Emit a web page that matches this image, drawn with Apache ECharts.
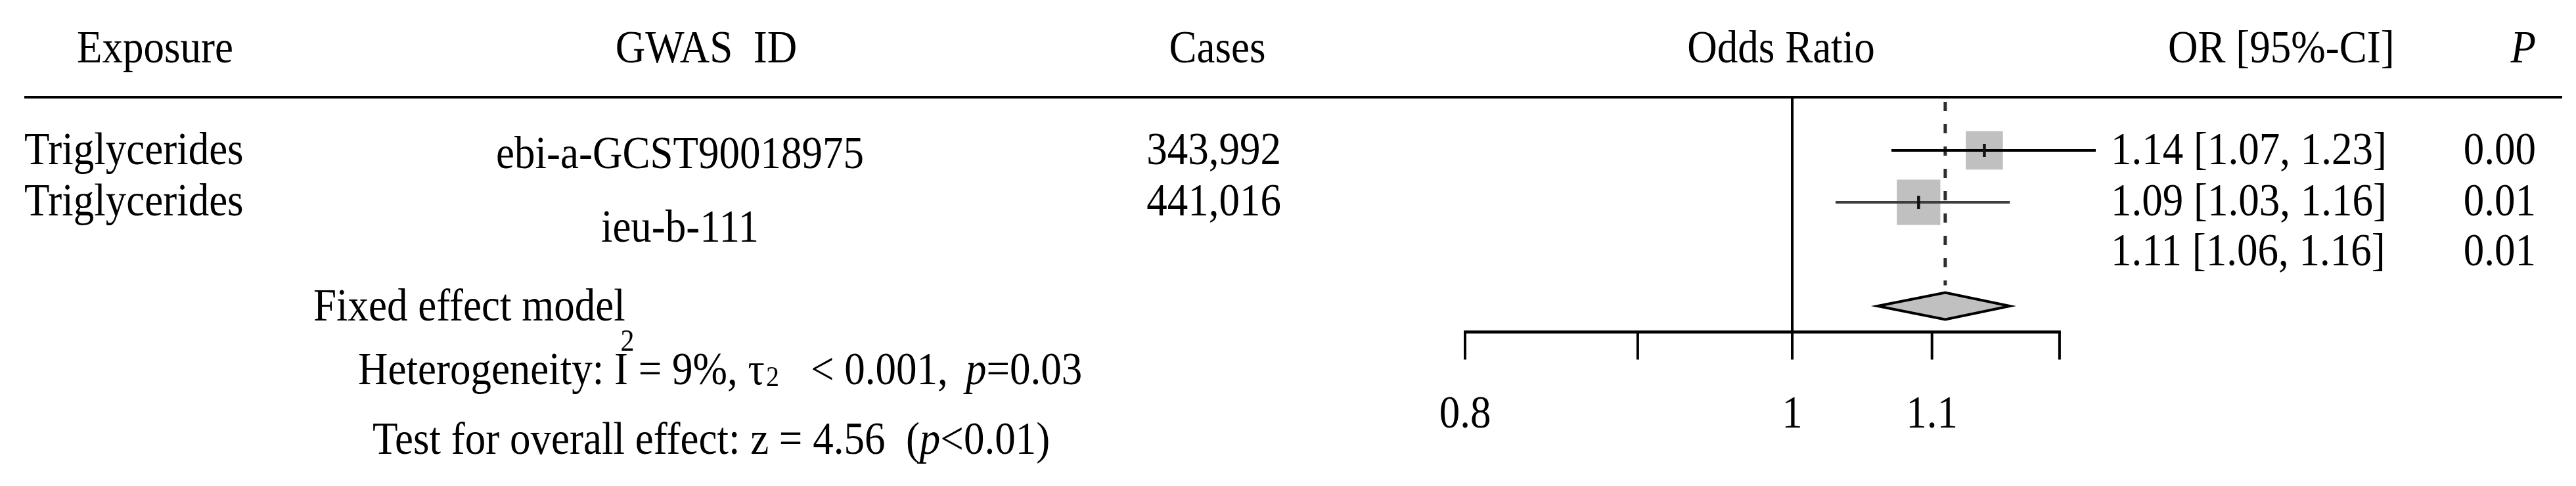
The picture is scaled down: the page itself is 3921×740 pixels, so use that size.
<!DOCTYPE html>
<html>
<head>
<meta charset="utf-8">
<script src="https://cdn.jsdelivr.net/npm/echarts@6/dist/echarts.min.js"></script>
<style>
html,body{margin:0;padding:0;background:#ffffff;}
#main{width:3921px;height:740px;}
</style>
</head>
<body>
<div id="main"></div>
<script>
// ---------------- data ----------------
const headers = ['Exposure', 'GWAS  ID', 'Cases', 'Odds Ratio', 'OR [95%-CI]', 'P'];
const exposures = ['Triglycerides', 'Triglycerides'];
const gwasIds = ['ebi-a-GCST90018975', 'ieu-b-111'];
const cases = [343992, 441016];
const orValues = [1.14, 1.09];
const ciLower = [1.07, 1.03];
const ciUpper = [1.23, 1.16];
const pValues = ['0.00', '0.01'];
const weights = [42.1, 57.9];            // fixed-effect weights (%), square area
const summaryOR = [1.11];
const summaryLower = [1.06];
const summaryUpper = [1.16];
const summaryP = ['0.01'];
const modelLabel = 'Fixed effect model';
const hetI2 = '9%';
const hetTau2 = '< 0.001';
const hetP = '0.03';
const overallZ = '4.56';
const overallP = '<0.01';
const tickValues = [0.8, 0.9, 1, 1.1, 1.2];
const tickLabels = ['0.8', '', '1', '1.1', ''];

// ---------------- layout / style ----------------
const FAMILY = '"Liberation Serif", "Times New Roman", serif';
const FS = 63;
const SY = 1.1;               // vertical stretch of the original typesetting
const ROW_TOP = 150;          // pixel y of row 0 (header rule)
const ROW_H = 79;
const AXIS_ROW = 4.5;
const SQ_K = 87;
const CI_COLORS = ['#000000', '#3d3d3d'];
const SQ_FILL = '#c0c0c0';

function font(size, italic) {
  return (italic ? 'italic ' : '') + size + 'px ' + FAMILY;
}
function textStyle(text, align, size, italic, rich) {
  const f = font(size || FS, italic);
  const s = {
    text: text, font: f, textFont: f, fill: '#000', textFill: '#000',
    align: align, textAlign: align, verticalAlign: 'middle', textVerticalAlign: 'middle'
  };
  if (rich) s.rich = rich;
  return s;
}
function txt(text, x, y, align, opts) {
  opts = opts || {};
  return {
    type: 'text', x: x, y: y, scaleY: SY, silent: true, z: 10,
    style: textStyle(text, align, opts.size, opts.italic, opts.rich)
  };
}
const italicRich = { it: { font: font(FS, true), textFont: font(FS, true), fill: '#000' } };

// ---------------- table text ----------------
const HEADER_Y = 77;
const rowTextY = [232, 310, 386];
const gwasY = [238, 350];
const graphics = [];
graphics.push(txt(headers[0], 117, HEADER_Y, 'left'));
graphics.push(txt(headers[1], 1075, HEADER_Y, 'center'));
graphics.push(txt(headers[2], 1853, HEADER_Y, 'center'));
graphics.push(txt(headers[3], 2711, HEADER_Y, 'center'));
graphics.push(txt(headers[4], 3300, HEADER_Y, 'left'));
graphics.push(txt(headers[5], 3860, HEADER_Y, 'right', { italic: true }));
// header rule
graphics.push({ type: 'line', silent: true, shape: { x1: 37, y1: 148, x2: 3900, y2: 148 },
  style: { stroke: '#000', lineWidth: 4 } });

const fmt2 = v => v.toFixed(2);
exposures.forEach((e, i) => {
  graphics.push(txt(e, 37, rowTextY[i], 'left'));
  graphics.push(txt(gwasIds[i], 1035, gwasY[i], 'center'));
  graphics.push(txt(cases[i].toLocaleString('en-US'), 1950, rowTextY[i], 'right'));
  graphics.push(txt(fmt2(orValues[i]) + ' [' + fmt2(ciLower[i]) + ', ' + fmt2(ciUpper[i]) + ']', 3213, rowTextY[i], 'left'));
  graphics.push(txt(pValues[i], 3860, rowTextY[i], 'right'));
});
graphics.push(txt(fmt2(summaryOR[0]) + ' [' + fmt2(summaryLower[0]) + ', ' + fmt2(summaryUpper[0]) + ']', 3213, rowTextY[2], 'left'));
graphics.push(txt(summaryP[0], 3860, rowTextY[2], 'right'));

// footnotes
graphics.push(txt(modelLabel, 477, 470, 'left'));
graphics.push(txt('Heterogeneity: I = ' + hetI2 + ', \u03c4', 545, 567, 'left'));
graphics.push(txt('2', 955, 522, 'center', { size: 42 }));
graphics.push(txt('2', 1166, 576, 'left', { size: 40 }));
graphics.push(txt(hetTau2 + ',', 1234, 567, 'left'));
graphics.push(txt('{it|p}=' + hetP, 1470, 567, 'left', { rich: italicRich }));
graphics.push(txt('Test for overall effect: z = ' + overallZ + '  ({it|p}' + overallP + ')', 567, 673, 'left', { rich: italicRich }));

// ---------------- forest marks ----------------
const studyData = orValues.map((v, i) => [v, i + 1, ciLower[i], ciUpper[i], weights[i]]);
const summaryData = [[summaryOR[0], 4, summaryLower[0], summaryUpper[0]]];
const tickData = tickValues.map((v, i) => [v, AXIS_ROW, i]);

function renderStudy(params, api) {
  const i = params.dataIndex;
  const row = api.value(1);
  const c = api.coord([api.value(0), row]);
  const lo = api.coord([api.value(2), row]);
  const hi = api.coord([api.value(3), row]);
  const w = SQ_K * Math.sqrt(api.value(4) / 100);
  const h = w * 1.04;
  return {
    type: 'group',
    children: [
      { type: 'rect', shape: { x: c[0] - w / 2, y: c[1] - h / 2, width: w, height: h }, style: { fill: SQ_FILL } },
      { type: 'line', shape: { x1: lo[0], y1: c[1], x2: hi[0], y2: c[1] }, style: { stroke: CI_COLORS[i], lineWidth: 4 } },
      { type: 'line', shape: { x1: c[0], y1: c[1] - 10, x2: c[0], y2: c[1] + 10 }, style: { stroke: '#111', lineWidth: 4.5 } }
    ]
  };
}

function renderSummary(params, api) {
  const row = api.value(1);
  const c = api.coord([api.value(0), row]);
  const lo = api.coord([api.value(2), row]);
  const hi = api.coord([api.value(3), row]);
  const top = api.coord([1, 0])[1];
  const hh = 20.5;
  return {
    type: 'group',
    children: [
      { type: 'line', shape: { x1: c[0], y1: top + 5, x2: c[0], y2: c[1] - hh - 11 },
        style: { stroke: '#2e2e2e', lineWidth: 5, lineDash: [14, 20] } },
      { type: 'polygon', shape: { points: [[lo[0], c[1]], [c[0], c[1] - hh], [hi[0], c[1]], [c[0], c[1] + hh]] },
        style: { fill: SQ_FILL, stroke: '#000', lineWidth: 4 } }
    ]
  };
}

function renderFrame(params, api) {
  const axisY = api.coord([1, AXIS_ROW])[1];
  const top = api.coord([1, 0]);
  const a = api.coord([tickValues[0], AXIS_ROW]);
  const b = api.coord([tickValues[tickValues.length - 1], AXIS_ROW]);
  return {
    type: 'group',
    children: [
      { type: 'line', shape: { x1: top[0], y1: top[1], x2: top[0], y2: axisY }, style: { stroke: '#000', lineWidth: 4 } },
      { type: 'line', shape: { x1: a[0] - 2, y1: axisY, x2: b[0] + 2, y2: axisY }, style: { stroke: '#000', lineWidth: 4.5 } }
    ]
  };
}

function renderTick(params, api) {
  const i = api.value(2);
  const p = api.coord([api.value(0), api.value(1)]);
  const children = [
    { type: 'line', shape: { x1: p[0], y1: p[1], x2: p[0], y2: p[1] + 42 }, style: { stroke: '#000', lineWidth: 4 } }
  ];
  if (tickLabels[i]) {
    children.push({ type: 'text', x: p[0], y: p[1] + 127, scaleY: SY, style: textStyle(tickLabels[i], 'center') });
  }
  return { type: 'group', children: children };
}

const chart = echarts.init(document.getElementById('main'), null, { renderer: 'canvas' });
chart.setOption({
  animation: false,
  backgroundColor: '#ffffff',
  grid: { left: 2230, width: 996, top: ROW_TOP, height: ROW_H * AXIS_ROW, containLabel: false, outerBoundsMode: 'none' },
  xAxis: { type: 'log', logBase: 10, min: 0.8, max: 1.25, show: false },
  yAxis: { type: 'value', min: 0, max: AXIS_ROW, inverse: true, show: false },
  graphic: { elements: graphics },
  series: [
    { type: 'custom', name: 'frame', data: [[1, 0]], renderItem: renderFrame, clip: false, silent: true, z: 1 },
    { type: 'custom', name: 'ticks', data: tickData, renderItem: renderTick, clip: false, silent: true, z: 2 },
    { type: 'custom', name: 'studies', data: studyData, renderItem: renderStudy, clip: false, silent: true, z: 4 },
    { type: 'custom', name: 'summary', data: summaryData, renderItem: renderSummary, clip: false, silent: true, z: 3 }
  ]
});
</script>
</body>
</html>
